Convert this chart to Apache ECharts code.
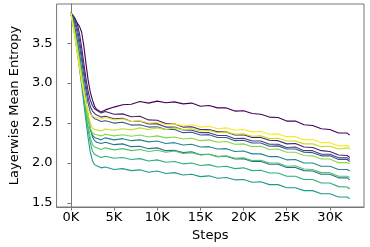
<!DOCTYPE html>
<html><head><meta charset="utf-8">
<script src="https://cdn.jsdelivr.net/npm/echarts@6/dist/echarts.min.js"></script>
<style>html,body{margin:0;padding:0;background:#fff}#c{width:370px;height:247px}</style>
</head><body><div id="c"></div>
<script>
const steps = [0,250,500,750,1000,1250,1500,1750,2000,2250,2500,2750,3000,3500,4000,
 5000,6000,7000,8000,9000,10000,11000,12000,13000,14000,15000,16000,17000,18000,19000,20000,
 21000,22000,23000,24000,25000,26000,27000,28000,29000,30000,31000,32000,32300];
const layer0 = [3.88,3.84,3.80,3.75,3.71,3.64,3.47,3.25,3.04,2.89,2.79,2.71,2.67,2.64,2.665,
 2.70,2.73,2.735,2.77,2.75,2.775,2.755,2.765,2.74,2.75,2.71,2.72,2.69,2.69,2.65,2.655,
 2.62,2.61,2.575,2.57,2.525,2.525,2.48,2.47,2.43,2.42,2.375,2.375,2.35];
const layer1 = [3.88,3.85,3.81,3.74,3.62,3.45,3.25,3.06,2.90,2.79,2.72,2.68,2.66,2.625,2.645,
 2.61,2.615,2.58,2.585,2.54,2.535,2.495,2.49,2.45,2.455,2.42,2.42,2.39,2.39,2.35,2.355,
 2.32,2.32,2.285,2.28,2.24,2.245,2.20,2.195,2.155,2.145,2.10,2.095,2.07];
const layer2 = [3.88,3.84,3.78,3.68,3.54,3.36,3.17,2.98,2.82,2.71,2.65,2.62,2.60,2.575,2.585,
 2.555,2.56,2.52,2.525,2.49,2.49,2.45,2.45,2.415,2.41,2.38,2.38,2.345,2.345,2.305,2.31,
 2.275,2.275,2.235,2.235,2.195,2.20,2.155,2.155,2.11,2.11,2.065,2.065,2.045];
const layer3 = [3.88,3.82,3.74,3.62,3.47,3.29,3.10,2.91,2.75,2.64,2.58,2.555,2.545,2.52,2.53,
 2.50,2.51,2.475,2.48,2.45,2.455,2.42,2.42,2.38,2.385,2.35,2.355,2.32,2.32,2.28,2.285,
 2.25,2.25,2.21,2.215,2.175,2.175,2.135,2.13,2.09,2.09,2.045,2.045,2.02];
const layer4 = [3.88,3.79,3.68,3.54,3.37,3.18,2.98,2.78,2.59,2.43,2.33,2.28,2.26,2.245,2.26,
 2.23,2.24,2.205,2.21,2.18,2.19,2.155,2.16,2.13,2.14,2.105,2.11,2.08,2.085,2.05,2.055,
 2.02,2.02,1.985,1.985,1.945,1.945,1.905,1.90,1.86,1.86,1.815,1.815,1.79];
const layer5 = [3.88,3.78,3.66,3.51,3.34,3.15,2.95,2.75,2.56,2.42,2.35,2.32,2.31,2.29,2.315,
 2.29,2.305,2.28,2.29,2.265,2.275,2.245,2.255,2.225,2.235,2.20,2.205,2.175,2.18,2.145,2.15,
 2.115,2.115,2.08,2.08,2.04,2.045,2.00,2.00,1.96,1.96,1.92,1.92,1.90];
const layer6 = [3.88,3.73,3.56,3.38,3.18,2.97,2.75,2.53,2.32,2.14,2.03,1.98,1.965,1.94,1.95,
 1.92,1.93,1.905,1.915,1.885,1.90,1.87,1.88,1.85,1.86,1.83,1.84,1.81,1.82,1.79,1.795,
 1.76,1.765,1.73,1.73,1.69,1.69,1.655,1.655,1.615,1.615,1.575,1.575,1.555];
const layer7 = [3.88,3.74,3.58,3.41,3.22,3.02,2.81,2.61,2.42,2.26,2.15,2.11,2.095,2.07,2.085,
 2.06,2.07,2.045,2.055,2.025,2.04,2.01,2.02,1.99,2.00,1.97,1.98,1.95,1.96,1.93,1.94,
 1.905,1.91,1.875,1.875,1.835,1.835,1.795,1.795,1.75,1.75,1.705,1.70,1.675];
const layer8 = [3.88,3.74,3.59,3.43,3.25,3.06,2.86,2.66,2.47,2.32,2.23,2.20,2.19,2.17,2.19,
 2.165,2.18,2.155,2.17,2.145,2.16,2.135,2.15,2.12,2.13,2.10,2.11,2.08,2.09,2.06,2.065,
 2.03,2.035,2.00,2.00,1.96,1.965,1.925,1.92,1.88,1.88,1.835,1.835,1.82];
const layer9 = [3.88,3.75,3.61,3.46,3.29,3.11,2.92,2.73,2.56,2.44,2.38,2.36,2.355,2.34,2.36,
 2.34,2.355,2.335,2.35,2.325,2.34,2.315,2.325,2.30,2.31,2.28,2.29,2.26,2.27,2.235,2.24,
 2.205,2.21,2.17,2.175,2.135,2.135,2.095,2.09,2.05,2.05,2.005,2.005,1.99];
const layer10 = [3.88,3.74,3.58,3.42,3.25,3.08,2.91,2.75,2.61,2.50,2.44,2.42,2.415,2.40,2.425,
 2.41,2.43,2.415,2.44,2.42,2.44,2.42,2.44,2.415,2.43,2.40,2.41,2.38,2.39,2.36,2.365,
 2.335,2.34,2.305,2.31,2.275,2.275,2.24,2.24,2.205,2.21,2.175,2.19,2.175];
const layer11 = [3.88,3.72,3.55,3.38,3.20,3.03,2.88,2.75,2.66,2.61,2.59,2.58,2.57,2.55,2.57,
 2.54,2.55,2.52,2.53,2.50,2.51,2.48,2.49,2.465,2.48,2.45,2.46,2.43,2.44,2.41,2.42,
 2.39,2.395,2.36,2.365,2.33,2.33,2.29,2.295,2.255,2.255,2.215,2.22,2.20];
const layers = [layer0,layer1,layer2,layer3,layer4,layer5,layer6,layer7,layer8,layer9,layer10,layer11];
const colors = ['#440154','#482173','#433e85','#38588c','#2d708e','#25858e','#1e9b8a','#2ab07f','#52c569','#86d549','#c2df23','#fde725'];
const xTicks = [0,5000,10000,15000,20000,25000,30000];
const yTicks = [1.5,2.0,2.5,3.0,3.5];

const chart = echarts.init(document.getElementById('c'), null, {renderer:'canvas'});
const font = 'DejaVu Sans';
const axisCommon = {
  axisLine:{show:true,lineStyle:{color:'#777',width:1}},
  axisTick:{show:true,length:3.5,inside:false,lineStyle:{color:'#777',width:1}},
  splitLine:{show:false}
};
chart.setOption({
  animation:false,
  grid:{left:46,right:6,top:4,bottom:40,show:true,borderColor:'#777',borderWidth:1,containLabel:false},
  xAxis:Object.assign({type:'value',min:-1650,max:33950,
    name:'Steps',nameLocation:'middle',nameGap:22,
    nameTextStyle:{fontFamily:font,fontSize:13,color:'#000'},
    axisLabel:{customValues:xTicks,fontFamily:font,fontSize:13,color:'#000',margin:4,
      formatter:v=>Math.round(v/1000)+'K'}},axisCommon,
    {axisTick:Object.assign({},axisCommon.axisTick,{customValues:xTicks})}),
  yAxis:Object.assign({type:'value',min:1.45,max:3.99,
    name:'Layerwise Mean Entropy',nameLocation:'middle',nameGap:26,
    nameTextStyle:{fontFamily:font,fontSize:13,color:'#000'},
    axisLabel:{customValues:yTicks,fontFamily:font,fontSize:13,color:'#000',margin:4,
      formatter:v=>v.toFixed(1)}},axisCommon,
    {axisTick:Object.assign({},axisCommon.axisTick,{customValues:yTicks})}),
  series:layers.map((d,i)=>({
    type:'line',data:steps.map((s,j)=>[s,d[j]]),showSymbol:false,symbol:'none',
    lineStyle:{color:colors[i],width:1.1},z:2+i/100
  }))
});
</script></body></html>
